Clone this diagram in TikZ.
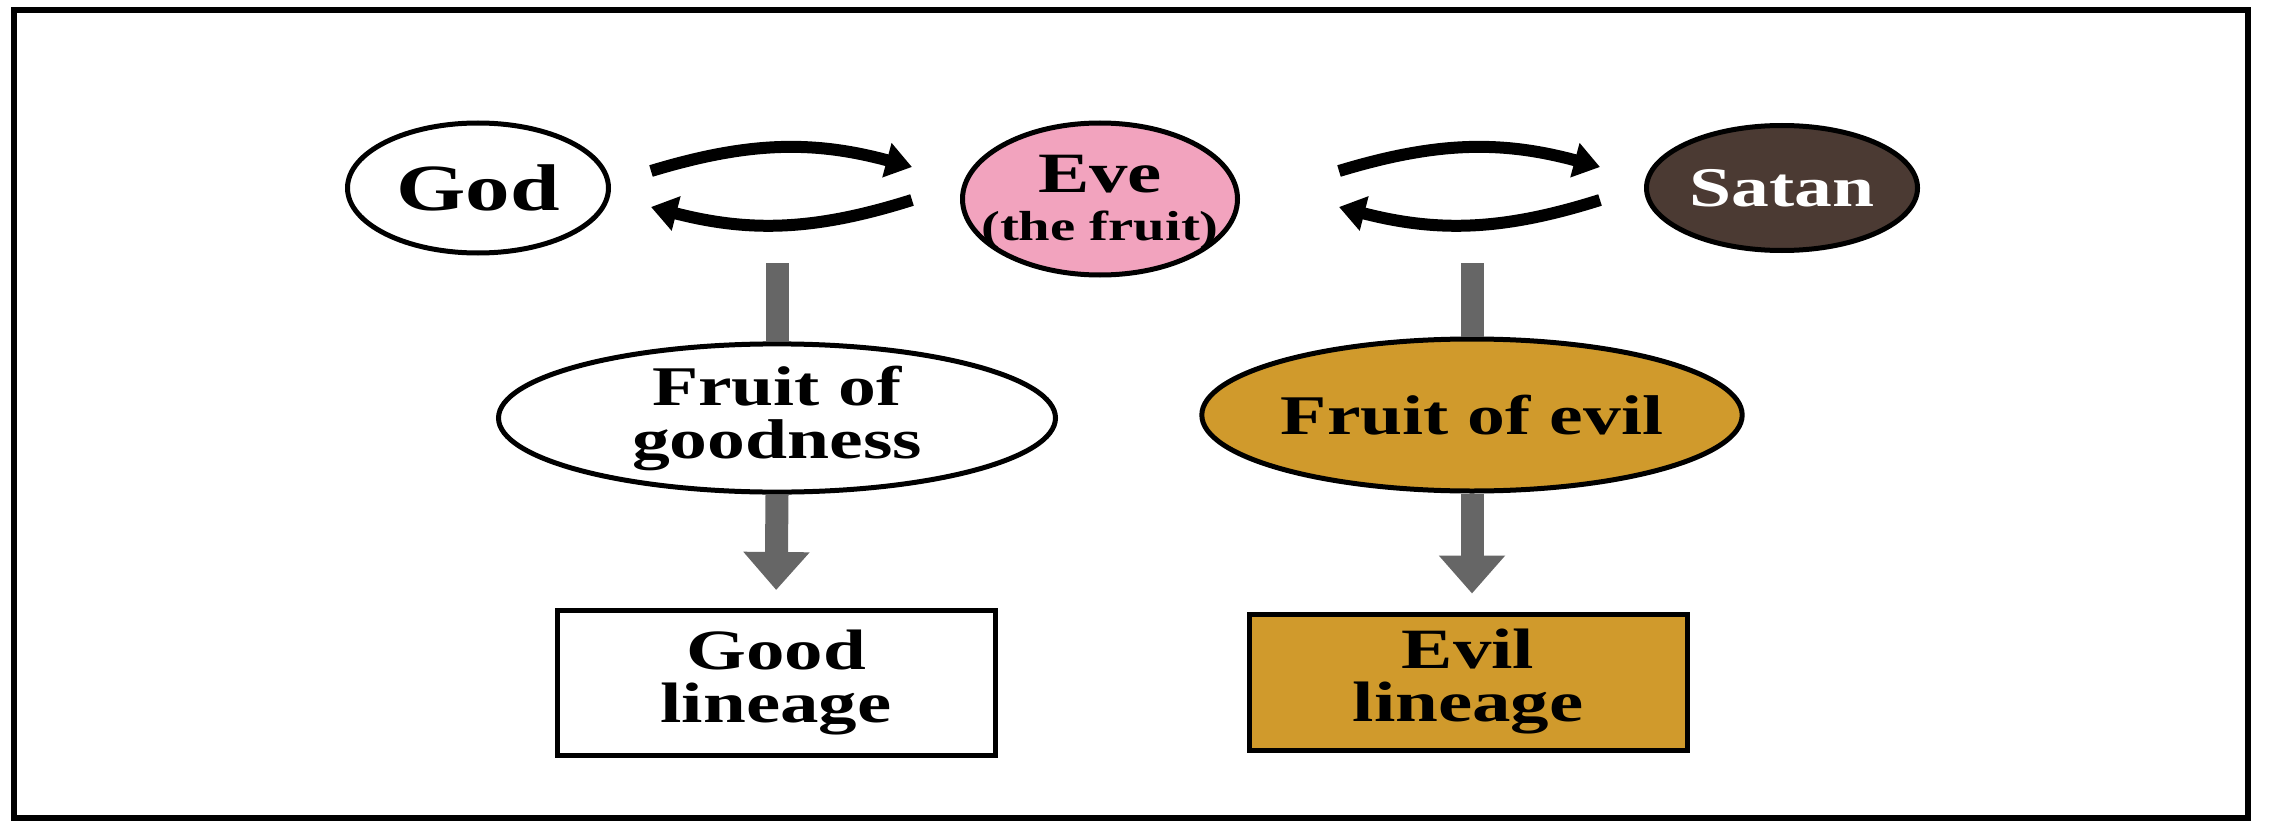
\documentclass[tikz,border=0pt]{standalone}
\usepackage{fontspec}
\setmainfont{Liberation Serif}[FakeStretch=1.35]
\usetikzlibrary{arrows.meta,shapes.geometric}
\definecolor{evepink}{HTML}{F2A3BE}
\definecolor{satanbrown}{HTML}{4B3A33}
\definecolor{evilgold}{HTML}{D09A2C}
\definecolor{arrowgray}{HTML}{666666}
\tikzset{
  oval/.style={ellipse, draw=black, line width=5pt, inner sep=0pt, align=center, font=\bfseries},
  lbox/.style={rectangle, draw=black, line width=5pt, inner sep=0pt, align=center, font=\bfseries},
  swap/.style={line width=12pt, -{Triangle[length=26pt,width=34pt]}},
  downarrow/.style={draw=arrowgray, line width=23pt},
  downhead/.style={-{Triangle[length=38pt,width=64pt]}}
}
\begin{document}
\begin{tikzpicture}[x=1pt,y=-1pt]
\useasboundingbox (0,0) rectangle (2270,824);
\fill[white] (0,0) rectangle (2270,824);
\draw[line width=6pt] (14,10) rectangle (2248,818);

% top row
\node[oval, fill=white, minimum width=261pt, minimum height=130pt, font=\bfseries\fontsize{66}{70}\selectfont] (god) at (478,188) {God};
\node[oval, fill=evepink, minimum width=275pt, minimum height=152pt] (eve) at (1100,199) {};
\node[align=center, inner sep=0pt, font=\bfseries\fontsize{42}{48}\selectfont] (evetext) at ([yshift=-3pt]eve.center)
  {{\fontsize{57}{48}\selectfont Eve}\\(the fruit)};
\node[oval, fill=satanbrown, text=white, minimum width=271pt, minimum height=125pt, font=\bfseries\fontsize{56}{60}\selectfont] (satan) at (1782,188) {Satan};

% swap arrows
\coordinate (a1) at (651,171); \coordinate (a2) at (912,167);
\coordinate (a3) at (912,200); \coordinate (a4) at (651,207);
\draw[swap] (a1) to[bend left=16] (a2);
\draw[swap] (a3) to[bend left=16] (a4);
\coordinate (b1) at (1339,171); \coordinate (b2) at (1600,167);
\coordinate (b3) at (1600,200); \coordinate (b4) at (1339,207);
\draw[swap] (b1) to[bend left=16] (b2);
\draw[swap] (b3) to[bend left=16] (b4);

% middle row
\node[oval, fill=white, minimum width=557pt, minimum height=135pt, font=\bfseries\fontsize{56}{53}\selectfont] (fg) at (777,418) {Fruit of\\goodness};
\node[oval, fill=evilgold, minimum width=528pt, minimum height=152pt, font=\bfseries\fontsize{56}{60}\selectfont] (fe) at (1472,415) {Fruit of evil};

% bottom row
\node[lbox, fill=white, minimum width=438pt, minimum height=145pt, font=\bfseries\fontsize{57}{53}\selectfont] (gl) at (776,683) {Good\\lineage};
\node[lbox, fill=evilgold, minimum width=438pt, minimum height=136pt, font=\bfseries\fontsize{57}{53}\selectfont] (el) at (1468,682) {Evil\\lineage};

% gray arrows
\coordinate (gtop) at (777,263);
\coordinate (etop) at (1472,263);
\draw[downarrow] (gtop) -- (fg.north);
\draw[downarrow] (etop) -- (fe.north);
\draw[downarrow, downhead, shorten >=18pt] (fg.south) -- (gl.north);
\draw[downarrow, downhead, shorten >=18pt] (fe.south) -- (fe.south |- el.north);
\end{tikzpicture}
\end{document}
